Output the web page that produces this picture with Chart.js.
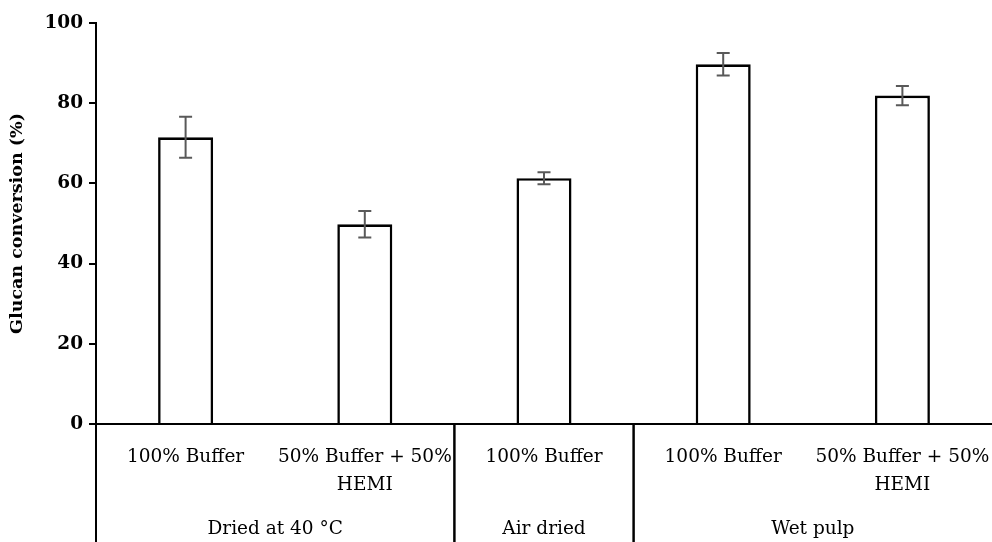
<!DOCTYPE html>
<html>
<head>
<meta charset="utf-8">
<script src="https://cdn.jsdelivr.net/npm/chart.js@4"></script>
<style>
  html, body { margin: 0; padding: 0; background: #fff; }
  #wrap { width: 992px; height: 542px; }
</style>
</head>
<body>
<div id="wrap"><canvas id="chart"></canvas></div>
<script>
// data
const categories = ['100% Buffer', ['50% Buffer + 50%', 'HEMI'], '100% Buffer', '100% Buffer', ['50% Buffer + 50%', 'HEMI']];
const groups = ['Dried at 40 °C', 'Air dried', 'Wet pulp'];
const groupSizes = [2, 1, 2];
const conversion = [71.5, 49.8, 61.3, 89.7, 81.9];
const errors = [5.1, 3.3, 1.5, 2.8, 2.4];

const font = 'DejaVu Serif';

// error bars, group separators and group labels
const extras = {
    id: 'extras',
    afterDatasetsDraw(chart) {
        const ctx = chart.ctx;
        const y = chart.scales.y;
        const meta = chart.getDatasetMeta(0);
        ctx.save();
        ctx.strokeStyle = '#595959';
        ctx.lineWidth = 2;
        meta.data.forEach((bar, i) => {
            const top = y.getPixelForValue(conversion[i] + errors[i]);
            const bot = y.getPixelForValue(conversion[i] - errors[i]);
            ctx.beginPath();
            ctx.moveTo(bar.x, top); ctx.lineTo(bar.x, bot);
            ctx.moveTo(bar.x - 6.5, top); ctx.lineTo(bar.x + 6.5, top);
            ctx.moveTo(bar.x - 6.5, bot); ctx.lineTo(bar.x + 6.5, bot);
            ctx.stroke();
        });
        ctx.restore();
    },
    afterDraw(chart) {
        const ctx = chart.ctx;
        const x = chart.scales.x;
        const top = chart.chartArea.bottom;
        const bottom = chart.height;
        ctx.save();
        ctx.strokeStyle = '#000';
        ctx.lineWidth = 2;
        ctx.fillStyle = '#000';
        ctx.font = '18.5px "' + font + '"';
        ctx.textAlign = 'center';
        ctx.textBaseline = 'middle';
        let start = 0;
        groups.forEach((g, k) => {
            const end = start + groupSizes[k];
            const x0 = x.getPixelForValue(start - 0.5);
            const x1 = x.getPixelForValue(end - 0.5);
            ctx.beginPath();
            ctx.moveTo(x0, top); ctx.lineTo(x0, bottom);
            // outer right edge sits past the visible area in the figure
            if (x1 < chart.width - 2) {
                ctx.moveTo(x1, top); ctx.lineTo(x1, bottom);
            }
            ctx.stroke();
            ctx.fillText(g, (x0 + x1) / 2, 529);
            start = end;
        });
        ctx.restore();
    }
};

new Chart(document.getElementById('chart'), {
    type: 'bar',
    data: {
        labels: categories,
        datasets: [{
            data: conversion,
            backgroundColor: '#fff',
            borderColor: '#000',
            borderWidth: 2.6,
            categoryPercentage: 1,
            barPercentage: 0.307
        }]
    },
    options: {
        responsive: true,
        maintainAspectRatio: false,
        animation: false,
        layout: { padding: { top: 23, right: 0, left: 0, bottom: 0 } },
        plugins: {
            legend: { display: false },
            tooltip: { enabled: false }
        },
        scales: {
            x: {
                grid: { display: false, drawTicks: false },
                border: { display: true, color: '#000', width: 2 },
                ticks: {
                    color: '#000',
                    padding: 19,
                    maxRotation: 0,
                    autoSkip: false,
                    font: { family: font, size: 18.5, lineHeight: 1.52 }
                },
                afterFit(scale) {
                    scale.height = 118;
                    scale.paddingLeft = 0;
                    scale.paddingRight = 0;
                }
            },
            y: {
                min: 0,
                max: 100,
                ticks: {
                    stepSize: 20,
                    color: '#000',
                    padding: 6,
                    font: { family: font, size: 18.5, weight: 'bold' }
                },
                grid: { drawOnChartArea: false, color: '#000', lineWidth: 2, tickLength: 7 },
                border: { color: '#000', width: 2 },
                title: {
                    display: true,
                    text: 'Glucan conversion (%)',
                    color: '#000',
                    padding: { top: 7, bottom: 0 },
                    font: { family: font, size: 17.5, weight: 'bold' }
                },
                afterFit(scale) { scale.width = 96; }
            }
        }
    },
    plugins: [extras]
});
</script>
</body>
</html>
